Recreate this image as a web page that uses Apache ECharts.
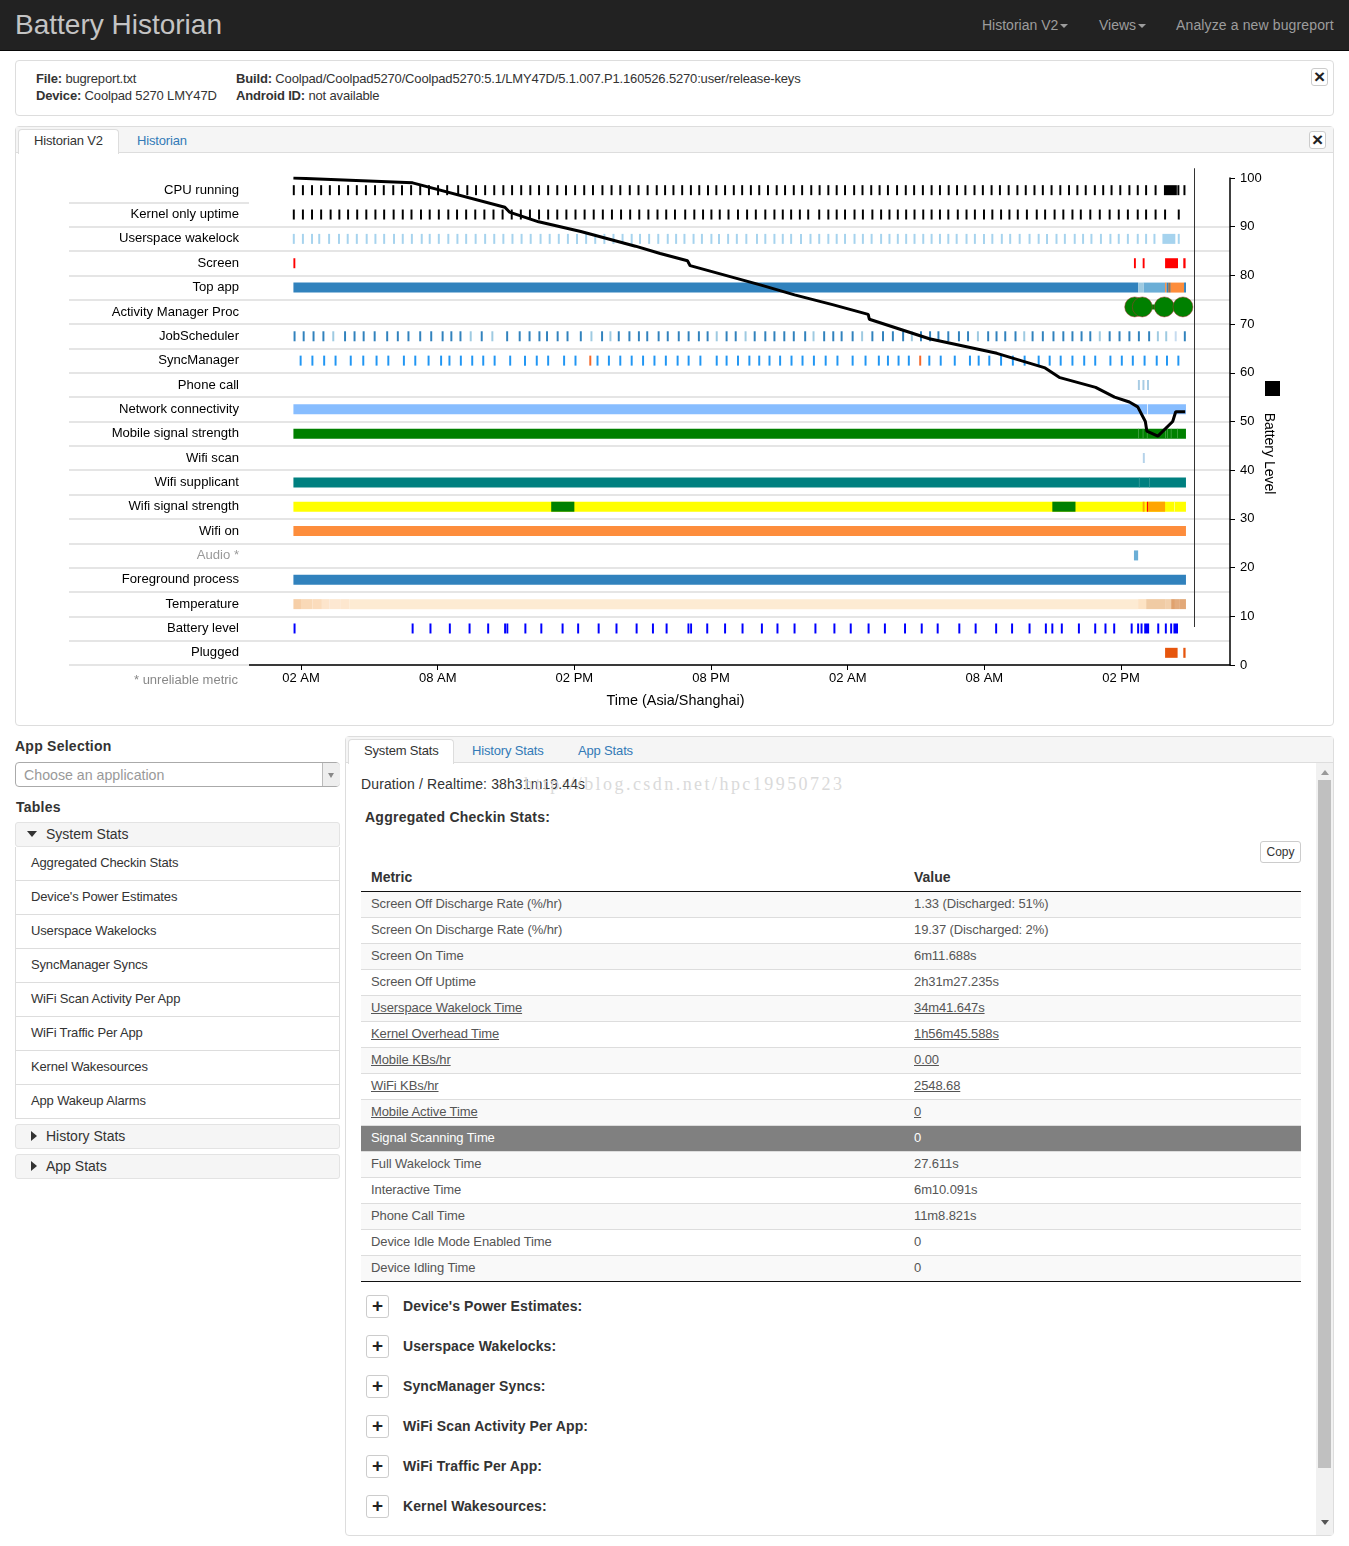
<!DOCTYPE html>
<html>
<head>
<meta charset="utf-8">
<title>Battery Historian</title>
<script src="https://cdn.jsdelivr.net/npm/echarts@6/dist/echarts.min.js"></script>
<style>
html, body { margin: 0; padding: 0; background: #fff; overflow: hidden; }
body { width: 1349px; height: 1546px; position: relative; font: 14px "Liberation Sans", Arial, sans-serif; color: #333; }
.abs, .t { position: absolute; }
.t { white-space: nowrap; line-height: 18px; }
.box { position: absolute; box-sizing: border-box; border: 1px solid #ddd; border-radius: 4px; background: #fff; }
.head { position: absolute; box-sizing: border-box; background: #f5f5f5; border-bottom: 1px solid #ddd; }
.tab { position: absolute; box-sizing: border-box; background: #fff; border: 1px solid #ddd; border-bottom: 0; border-radius: 4px 4px 0 0; }
.link { color: #337ab7; }
.nav { color: #9d9d9d; }
.b { font-weight: bold; }
.sm { font-size: 13px; letter-spacing: -.16px; }
.sec { font-weight: bold; letter-spacing: .25px; color: #333; }
.close { position: absolute; box-sizing: border-box; width: 17px; height: 18px; border: 1px solid #ccc; border-radius: 3px; font: bold 19px/15px "Liberation Sans"; text-align: center; color: #222; background: #fff; }
.plus { position: absolute; left: 366px; box-sizing: border-box; width: 23px; height: 23px; border: 1px solid #ccc; border-radius: 3px; font: bold 19px/20px "Liberation Sans"; text-align: center; color: #222; background: #fff; }
.item { position: absolute; left: 15px; width: 325px; box-sizing: border-box; height: 34px; border: 1px solid #ddd; border-top: 0; line-height: 31px; padding-left: 15px; font-size: 13px; letter-spacing: -.15px; }
.acc { position: absolute; left: 15px; width: 325px; box-sizing: border-box; height: 25px; background: #f5f5f5; border: 1px solid #e3e3e3; border-radius: 3px; line-height: 22px; padding-left: 30px; }
.row { position: absolute; left: 361px; width: 940px; height: 26px; box-sizing: border-box; border-bottom: 1px solid #ddd; line-height: 24px; color: #555; font-size: 13px; letter-spacing: -.1px; }
.row span { position: absolute; }
.row .a { left: 10px; }
.row .v { left: 553px; }
.tri { position: absolute; width: 0; height: 0; }
.caret { display: inline-block; width: 0; height: 0; margin-left: 2px; vertical-align: 2px; border-left: 4px solid transparent; border-right: 4px solid transparent; border-top: 4px solid #9d9d9d; }
#chart { position: absolute; left: 16px; top: 153px; width: 1317px; height: 570px; }
</style>
</head>
<body>

<div class="abs" style="left:0;top:0;width:1349px;height:51px;background:#222;border-bottom:1px solid #080808;box-sizing:border-box"></div>
<div class="t" style="left:15px;top:10px;font-size:28px;line-height:30px;color:#c4c4c4">Battery Historian</div>
<div class="t nav" style="left:982px;top:16px">Historian V2<span class="caret"></span></div>
<div class="t nav" style="left:1099px;top:16px">Views<span class="caret"></span></div>
<div class="t nav" style="left:1176px;top:16px;letter-spacing:.13px">Analyze a new bugreport</div>

<div class="box" style="left:15px;top:60px;width:1319px;height:56px"></div>
<div class="t sm" style="left:36px;top:70px"><span class="b">File:</span> bugreport.txt</div>
<div class="t sm" style="left:36px;top:87px"><span class="b">Device:</span> Coolpad 5270 LMY47D</div>
<div class="t sm" style="left:236px;top:70px"><span class="b">Build:</span> Coolpad/Coolpad5270/Coolpad5270:5.1/LMY47D/5.1.007.P1.160526.5270:user/release-keys</div>
<div class="t sm" style="left:236px;top:87px"><span class="b">Android ID:</span> not available</div>
<div class="close" style="left:1311px;top:68px">×</div>

<div class="box" style="left:15px;top:126px;width:1319px;height:600px"></div>
<div class="head" style="left:16px;top:127px;width:1317px;height:26px"></div>
<div class="tab" style="left:18px;top:129px;width:101px;height:25px"></div>
<div class="t sm" style="left:34px;top:132px">Historian V2</div>
<div class="t sm link" style="left:137px;top:132px">Historian</div>
<div class="close" style="left:1309px;top:131px">×</div>
<div id="chart"></div>

<div class="t sec" style="left:15px;top:737px">App Selection</div>
<div class="abs" style="left:15px;top:762px;width:325px;height:25px;box-sizing:border-box;border:1px solid #aaa;border-radius:4px;background:#fff"></div>
<div class="abs" style="left:322px;top:763px;width:17px;height:23px;background:#eee;border-left:1px solid #bbb;border-radius:0 3px 3px 0"></div>
<div class="tri" style="left:328px;top:773px;border-left:3px solid transparent;border-right:3px solid transparent;border-top:5px solid #888"></div>
<div class="t" style="left:24px;top:766px;color:#999;font-size:14.2px">Choose an application</div>
<div class="t sec" style="left:16px;top:798px">Tables</div>
<div class="acc" style="top:822px">System Stats</div>
<div class="tri" style="left:27px;top:831px;border-left:5.5px solid transparent;border-right:5.5px solid transparent;border-top:6px solid #333"></div>
<div id="tableItems"></div>
<div class="acc" style="top:1124px">History Stats</div>
<div class="tri" style="left:31px;top:1131px;border-top:5.5px solid transparent;border-bottom:5.5px solid transparent;border-left:6px solid #333"></div>
<div class="acc" style="top:1154px">App Stats</div>
<div class="tri" style="left:31px;top:1161px;border-top:5.5px solid transparent;border-bottom:5.5px solid transparent;border-left:6px solid #333"></div>

<div class="box" style="left:345px;top:736px;width:989px;height:800px"></div>
<div class="head" style="left:346px;top:737px;width:987px;height:26px"></div>
<div class="tab" style="left:348px;top:739px;width:106px;height:25px"></div>
<div class="t sm" style="left:364px;top:742px">System Stats</div>
<div class="t sm link" style="left:472px;top:742px">History Stats</div>
<div class="t sm link" style="left:578px;top:742px">App Stats</div>
<div class="t" style="left:361px;top:775px;letter-spacing:.12px">Duration / Realtime: 38h31m19.44s</div>
<div class="t" style="left:524px;top:775px;font:18px/18px 'Liberation Serif',serif;letter-spacing:2.45px;color:#dadada">http://blog.csdn.net/hpc19950723</div>
<div class="t sec" style="left:365px;top:808px">Aggregated Checkin Stats:</div>
<div class="abs" style="left:1260px;top:841px;width:41px;height:22px;box-sizing:border-box;border:1px solid #ccc;border-radius:3px;text-align:center;font-size:12px;line-height:20px;color:#333">Copy</div>
<div class="t b" style="left:371px;top:868px">Metric</div>
<div class="t b" style="left:914px;top:868px">Value</div>
<div class="abs" style="left:361px;top:891px;width:940px;height:1px;background:#111"></div>
<div id="statRows"></div>
<div class="abs" style="left:361px;top:1281px;width:940px;height:1px;background:#111"></div>
<div id="sections"></div>

<div class="abs" style="left:1316px;top:763px;width:17px;height:772px;background:#f1f1f1"></div>
<div class="abs" style="left:1318px;top:780px;width:13px;height:688px;background:#c0c0c0"></div>
<div class="tri" style="left:1321px;top:770px;border-left:4px solid transparent;border-right:4px solid transparent;border-bottom:5px solid #999"></div>
<div class="tri" style="left:1321px;top:1520px;border-left:4px solid transparent;border-right:4px solid transparent;border-top:5px solid #555"></div>

<script>
// all times are minutes after the first 02 AM tick
const rowNames = ['CPU running', 'Kernel only uptime', 'Userspace wakelock', 'Screen', 'Top app',
    'Activity Manager Proc', 'JobScheduler', 'SyncManager', 'Phone call', 'Network connectivity',
    'Mobile signal strength', 'Wifi scan', 'Wifi supplicant', 'Wifi signal strength', 'Wifi on',
    'Audio *', 'Foreground process', 'Temperature', 'Battery level', 'Plugged'];

const blue = '#3182bd', green = '#008000', yellow = '#ffff00';

// single wakeups, drawn as thin ticks
const ticks = {
    'CPU running': { color: '#000000', at: [-19, 5, 29, 53, 76, 100, 124, 147, 171, 195, 218, 243, 266, 290, 314, 337, 361, 385, 414, 438, 461, 485, 509, 533, 556, 580, 604, 627, 651, 675, 698, 722, 746, 769, 794, 818, 841, 866, 889, 913, 937, 959, 981, 1004, 1027, 1049, 1072, 1094, 1117, 1140, 1162, 1185, 1207, 1230, 1253, 1275, 1298, 1320, 1344, 1366, 1389, 1411, 1433, 1457, 1479, 1502, 1524, 1546, 1570, 1593, 1615, 1638, 1661, 1683, 1706, 1728, 1750, 1774, 1796, 1819, 1841, 1864, 1887, 1909, 1932, 1954, 1977, 2000, 2023, 2045, 2067, 2091, 2113, 2135, 2158, 2182, 2204, 2226, 2251, 2311, 2327] },
    'Kernel only uptime': { color: '#000000', at: [-19, 5, 29, 53, 78, 101, 124, 148, 172, 196, 219, 244, 268, 291, 316, 339, 363, 388, 411, 435, 459, 483, 507, 531, 555, 579, 603, 627, 651, 675, 699, 723, 747, 771, 795, 819, 843, 867, 891, 915, 939, 962, 985, 1012, 1036, 1059, 1081, 1103, 1126, 1151, 1175, 1198, 1223, 1247, 1269, 1291, 1314, 1336, 1365, 1389, 1411, 1433, 1458, 1480, 1505, 1528, 1550, 1572, 1594, 1616, 1639, 1661, 1683, 1705, 1730, 1753, 1775, 1799, 1821, 1844, 1866, 1888, 1912, 1938, 1960, 1985, 2008, 2032, 2054, 2079, 2104, 2130, 2154, 2178, 2204, 2226, 2251, 2276, 2312] },
    'Userspace wakelock': { color: '#a6d3ee', at: [-19, 5, 29, 48, 74, 100, 123, 147, 173, 196, 219, 245, 268, 292, 318, 339, 363, 388, 412, 435, 460, 485, 509, 533, 557, 581, 605, 631, 655, 679, 703, 727, 751, 775, 799, 823, 847, 871, 893, 917, 941, 966, 988, 1010, 1034, 1056, 1081, 1101, 1125, 1148, 1173, 1201, 1223, 1247, 1269, 1291, 1317, 1342, 1365, 1389, 1411, 1433, 1458, 1480, 1503, 1528, 1550, 1572, 1594, 1616, 1639, 1661, 1683, 1705, 1727, 1753, 1775, 1799, 1821, 1846, 1868, 1893, 1919, 1943, 1965, 1990, 2012, 2038, 2060, 2082, 2107, 2132, 2154, 2178, 2204, 2226, 2248, 2312] },
    'JobScheduler': { color: blue, at: [-17, 7, 33, 59, 116, 141, 165, 194, 227, 255, 283, 314, 343, 373, 396, 420, 476, 543, 576, 602, 628, 648, 676, 702, 737, 793, 837, 865, 890, 912, 942, 966, 995, 1021, 1048, 1071, 1121, 1145, 1195, 1223, 1247, 1273, 1298, 1328, 1378, 1402, 1424, 1453, 1505, 1533, 1559, 1586, 1633, 1657, 1679, 1705, 1733, 1757, 1810, 1832, 1855, 1882, 1927, 1954, 1982, 2008, 2032, 2056, 2079, 2130, 2156, 2182, 2207, 2234, 2328] },
    'JobScheduler light': { row: 'JobScheduler', color: '#9ecae1', at: [85, 447, 504, 765, 815, 1095, 1171, 1350, 1478, 1609, 1783, 1905, 2104, 2257, 2279] },
    'JobScheduler faint': { row: 'JobScheduler', color: '#c6dbef', at: [2304] },
    'SyncManager': { color: '#2196f3', at: [-1, 30, 61, 91, 131, 164, 199, 230, 271, 301, 336, 369, 391, 421, 451, 480, 510, 551, 590, 621, 651, 693, 723, 781, 811, 841, 871, 901, 931, 961, 992, 1021, 1052, 1095, 1121, 1151, 1181, 1207, 1234, 1262, 1292, 1321, 1351, 1382, 1413, 1453, 1487, 1522, 1546, 1574, 1601, 1655, 1685, 1722, 1762, 1785, 1813, 1844, 1875, 1906, 1943, 1972, 2001, 2032, 2063, 2092, 2132, 2162, 2191, 2222, 2254, 2281, 2311] },
    'SyncManager conflict': { row: 'SyncManager', color: '#f4682a', at: [762, 1631] },
    'Phone call': { color: '#a8cce4', at: [2207, 2219, 2231] },
    'Wifi scan': { color: '#b5d3ea', at: [2220] },
    'Battery level': { color: '#0000ff', at: [-17, 294, 341, 392, 444, 493, 591, 633, 689, 730, 784, 831, 884, 927, 963, 1070, 1117, 1163, 1214, 1255, 1300, 1355, 1405, 1448, 1495, 1538, 1591, 1635, 1677, 1734, 1777, 1831, 1873, 1919, 1962, 1979, 2004, 2049, 2092, 2119, 2142, 2188, 2205, 2214, 2258, 2278, 2292] }
};

// row, start, end, colour
const spans = [
    ['Screen', -20, -15, '#ff0000'], ['Screen', 2194, 2199, '#ff0000'], ['Screen', 2217, 2222, '#ff0000'],
    ['Screen', 2276, 2310, '#ff0000'], ['Screen', 2324, 2330, '#ff0000'],
    ['Top app', -20, 2205, blue], ['Top app', 2205, 2219, '#9ecae1'], ['Top app', 2219, 2276, '#6baed6'],
    ['Top app', 2276, 2280, '#fd8d3c'], ['Top app', 2280, 2284, blue], ['Top app', 2284, 2291, '#a0714a'],
    ['Top app', 2291, 2326, '#fd8d3c'], ['Top app', 2326, 2331, blue],
    ['Network connectivity', -20, 2229, '#87bdff'], ['Network connectivity', 2231, 2331, '#87bdff'],
    ['Mobile signal strength', -20, 2331, green],
    ['Mobile signal strength', 2205, 2207, '#4ca64c'], ['Mobile signal strength', 2217, 2219, '#4ca64c'],
    ['Mobile signal strength', 2228, 2230, '#4ca64c'], ['Mobile signal strength', 2276, 2278, '#4ca64c'],
    ['Mobile signal strength', 2281, 2283, '#4ca64c'], ['Mobile signal strength', 2291, 2293, '#4ca64c'],
    ['Mobile signal strength', 2308, 2310, '#4ca64c'],
    ['Wifi supplicant', -20, 2331, '#008080'], ['Wifi supplicant', 2207, 2209, '#3d9c9c'], ['Wifi supplicant', 2234, 2236, '#3d9c9c'],
    ['Wifi signal strength', -20, 2331, yellow], ['Wifi signal strength', 659, 720, green], ['Wifi signal strength', 1979, 2040, green],
    ['Wifi signal strength', 2217, 2222, '#ffa500'], ['Wifi signal strength', 2228, 2231, '#ff0000'],
    ['Wifi signal strength', 2231, 2276, '#ffa500'], ['Wifi signal strength', 2300, 2302, '#ffffa0'],
    ['Wifi on', -20, 2331, '#fd8d3c'],
    ['Audio *', 2194, 2205, '#6baed6'],
    ['Foreground process', -20, 2331, blue],
    ['Temperature', -20, 0, '#f6cfa8'], ['Temperature', 0, 30, '#f9d9b7'], ['Temperature', 30, 55, '#fbdcbc'],
    ['Temperature', 55, 75, '#fde5cc'], ['Temperature', 75, 105, '#fde8d2'], ['Temperature', 105, 127, '#fde7cf'],
    ['Temperature', 127, 2205, '#fdebd3'], ['Temperature', 2205, 2226, '#fde3c4'], ['Temperature', 2226, 2276, '#f0cba4'],
    ['Temperature', 2276, 2292, '#f2d0ac'], ['Temperature', 2292, 2302, '#e0a26e'], ['Temperature', 2302, 2313, '#e3ac7e'],
    ['Temperature', 2313, 2331, '#e2a878'],
    ['Battery level', 535, 540, '#0000ff'], ['Battery level', 541, 546, '#0000ff'], ['Battery level', 1018, 1023, '#0000ff'],
    ['Battery level', 1025, 1030, '#0000ff'], ['Battery level', 2221, 2234, '#0000ff'], ['Battery level', 2298, 2310, '#0000ff'],
    ['CPU running', 2273, 2307, '#000000'],
    ['Userspace wakelock', 2269, 2303, '#a6d3ee'],
    ['Plugged', 2276, 2309, '#e6550d'], ['Plugged', 2324, 2330, '#e6550d']
];

// process start events, their markers sit a little above the row centre
const procStarts = [2196, 2216, 2274, 2323];

const batteryLevel = [[-20, 100], [294, 99], [537, 94], [549, 93], [626, 91], [737, 89], [881, 86], [946, 84.5],
    [1018, 83], [1025, 82], [1212, 78], [1300, 76], [1400, 74], [1494, 72], [1497, 71], [1655, 67], [1833, 64],
    [1960, 61], [1999, 59], [2093, 57], [2143, 55], [2182, 54], [2204, 53], [2224, 50], [2228, 48], [2257, 47],
    [2296, 50], [2304, 52], [2329, 52]];

let marks = spans.map(s => [rowNames.indexOf(s[0]), s[1], s[2], s[3]]);
Object.keys(ticks).forEach(key => {
    const row = rowNames.indexOf(ticks[key].row || key);
    ticks[key].at.forEach(t => marks.push([row, t - 2.6, t + 2.6, ticks[key].color]));
});
// keep thin lines over the bars they mark
marks.sort((a, b) => (b[2] - b[1]) - (a[2] - a[1]));

const hourLabel = v => {
    const h = (2 + v / 60) % 24;
    return h < 12 ? '0' + h + ' AM' : '0' + (h - 12) + ' PM';
};
const xTicks = [0, 360, 720, 1080, 1440, 1800, 2160];

const chart = echarts.init(document.getElementById('chart'));
chart.setOption({
    animation: false,
    textStyle: { fontFamily: '"Liberation Sans", Arial, sans-serif' },
    grid: { left: 233, right: 103, top: 25, height: 487 },
    legend: {
        data: [{ name: 'Battery Level', icon: 'rect' }],
        left: 1249, top: 228, itemWidth: 15, itemHeight: 15, padding: 0,
        formatter: () => '', selectedMode: false
    },
    xAxis: {
        type: 'value', min: -137, max: 2447,
        name: 'Time (Asia/Shanghai)', nameLocation: 'middle', nameGap: 29,
        nameTextStyle: { fontSize: 14.4, color: '#000', padding: [0, 128, 0, 0] },
        axisLine: { onZero: false, lineStyle: { color: '#000', width: 1.5 } },
        axisTick: { customValues: xTicks, length: 5, lineStyle: { color: '#000' } },
        axisLabel: { customValues: xTicks, formatter: hourLabel, fontSize: 13, color: '#000', margin: 7 },
        splitLine: { show: false }
    },
    yAxis: [{
        type: 'category', inverse: true,
        data: rowNames.map(n => n === 'Audio *' ? { value: n, textStyle: { color: '#999' } } : n),
        axisLine: { show: true, onZero: false, lineStyle: { color: 'transparent' } },
        axisTick: { show: true, length: 180, interval: i => i > 0, lineStyle: { color: '#e5e5e5', width: 2 } },
        axisLabel: { interval: 0, fontSize: 13.1, color: '#000', margin: 10, padding: [2, 0, 0, 0] },
        splitLine: { show: true, showMinLine: false, interval: i => i > 0, lineStyle: { color: '#e5e5e5', width: 2 } }
    }, {
        type: 'value', position: 'right', min: 0, max: 100, interval: 10,
        name: 'Battery Level', nameLocation: 'middle', nameGap: 32, nameRotate: -90, nameMoveOverlap: false,
        nameTextStyle: { fontSize: 14, color: '#000', padding: [0, 0, 0, 64] },
        axisLine: { show: true, onZero: false, lineStyle: { color: '#000', width: 1.5 } },
        axisTick: { show: true, length: 5, lineStyle: { color: '#000' } },
        axisLabel: { fontSize: 13, color: '#000', margin: 10 },
        splitLine: { show: false }
    }],
    graphic: [{
        type: 'text', right: 1095, top: 521,
        style: { text: '* unreliable metric', fill: '#888', font: '13px "Liberation Sans"', textAlign: 'right' }
    }],
    series: [{
        type: 'custom',
        data: marks.map(m => [m[0], m[1], m[2]]),
        encode: { x: [1, 2], y: 0 },
        renderItem: (params, api) => {
            const a = api.coord([api.value(1), api.value(0)]);
            const b = api.coord([api.value(2), api.value(0)]);
            return {
                type: 'rect',
                shape: { x: a[0], y: a[1] - 5, width: b[0] - a[0], height: 10 },
                style: { fill: marks[params.dataIndex][3] }
            };
        }
    }, {
        // thin link between the process markers
        type: 'custom',
        data: [[5, procStarts[1], procStarts[3]]],
        encode: { x: [1, 2], y: 0 },
        renderItem: (params, api) => {
            const a = api.coord([api.value(1), api.value(0)]);
            const b = api.coord([api.value(2), api.value(0)]);
            return {
                type: 'rect',
                shape: { x: a[0], y: a[1] - 7.5, width: b[0] - a[0], height: 5 },
                style: { fill: green }
            };
        }
    }, {
        type: 'scatter',
        symbolSize: 20,
        symbolOffset: [0, -5],
        itemStyle: { color: green, opacity: 1, borderColor: '#a33', borderWidth: 0.5 },
        data: procStarts.map(t => [t, 'Activity Manager Proc'])
    }, {
        name: 'Battery Level',
        type: 'line',
        yAxisIndex: 1,
        showSymbol: false,
        symbol: 'none',
        itemStyle: { color: '#000' },
        lineStyle: { color: '#000', width: 3 },
        data: batteryLevel
    }, {
        // cursor guide, runs slightly above the plot
        type: 'custom',
        yAxisIndex: 1,
        clip: false,
        data: [[2353.5, 102, 7.8]],
        encode: { x: 0, y: [1, 2] },
        renderItem: (params, api) => {
            const a = api.coord([api.value(0), api.value(1)]);
            const b = api.coord([api.value(0), api.value(2)]);
            return {
                type: 'line',
                shape: { x1: a[0], y1: a[1], x2: b[0], y2: b[1] },
                style: { stroke: '#333', lineWidth: 1 }
            };
        }
    }]
});

const tableItems = ['Aggregated Checkin Stats', "Device's Power Estimates", 'Userspace Wakelocks', 'SyncManager Syncs',
    'WiFi Scan Activity Per App', 'WiFi Traffic Per App', 'Kernel Wakesources', 'App Wakeup Alarms'];
document.getElementById('tableItems').innerHTML = tableItems.map((n, i) =>
    `<div class="item" style="top:${847 + 34 * i}px">${n}</div>`).join('');

const stats = [
    ['Screen Off Discharge Rate (%/hr)', '1.33 (Discharged: 51%)'],
    ['Screen On Discharge Rate (%/hr)', '19.37 (Discharged: 2%)'],
    ['Screen On Time', '6m11.688s'],
    ['Screen Off Uptime', '2h31m27.235s'],
    ['Userspace Wakelock Time', '34m41.647s', 'u'],
    ['Kernel Overhead Time', '1h56m45.588s', 'u'],
    ['Mobile KBs/hr', '0.00', 'u'],
    ['WiFi KBs/hr', '2548.68', 'u'],
    ['Mobile Active Time', '0', 'u'],
    ['Signal Scanning Time', '0', 'hi'],
    ['Full Wakelock Time', '27.611s'],
    ['Interactive Time', '6m10.091s'],
    ['Phone Call Time', '11m8.821s'],
    ['Device Idle Mode Enabled Time', '0'],
    ['Device Idling Time', '0']
];
document.getElementById('statRows').innerHTML = stats.map((r, i) => {
    const bg = r[2] === 'hi' ? '#808080' : (i % 2 === 0 ? '#f9f9f9' : '#fff');
    const fg = r[2] === 'hi' ? '#fff' : '#555';
    const deco = r[2] === 'u' ? 'text-decoration:underline' : '';
    return `<div class="row" style="top:${892 + 26 * i}px;background:${bg};color:${fg}">` +
        `<span class="a" style="${deco}">${r[0]}</span><span class="v" style="${deco}">${r[1]}</span></div>`;
}).join('');

const sections = ["Device's Power Estimates:", 'Userspace Wakelocks:', 'SyncManager Syncs:', 'WiFi Scan Activity Per App:',
    'WiFi Traffic Per App:', 'Kernel Wakesources:'];
document.getElementById('sections').innerHTML = sections.map((n, i) =>
    `<div class="plus" style="top:${1295 + 40 * i}px">+</div>` +
    `<div class="t sec" style="left:403px;top:${1297 + 40 * i}px;letter-spacing:.1px">${n}</div>`).join('');
</script>
</body>
</html>
